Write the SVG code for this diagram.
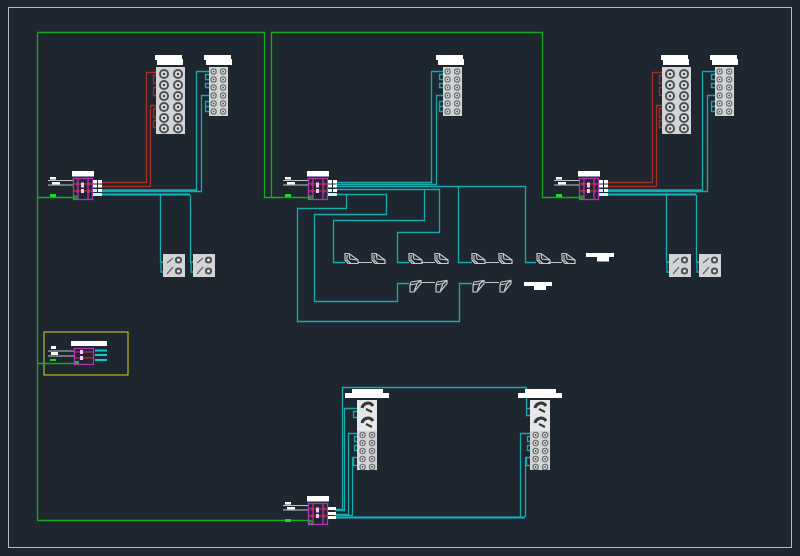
<svg xmlns="http://www.w3.org/2000/svg" xmlns:xlink="http://www.w3.org/1999/xlink" width="800" height="556" viewBox="0 0 800 556">
<style>
.t{fill:none;stroke:#14abaf;stroke-width:1.3}
.tb{fill:none;stroke:#14b8bc;stroke-width:2}
.r{fill:none;stroke:#a82e26;stroke-width:1.3}
.g{fill:none;stroke:#17aa20;stroke-width:1.300}
.w{fill:#fff;stroke:none}
.s{fill:none;stroke:#c6c9cc;stroke-width:1.200}
.m{fill:none;stroke:#b234be;stroke-width:1.300}
.h{fill:none;stroke:#e02c50;stroke-width:1.100}
.bg{fill:#d2d4d6}
</style>
<defs>
<g id="ctl">
<rect class="w" x="-1" y="-7" width="22" height="5.500"/>
<path d="M-25 2.500H0M-25 7H0" fill="none" stroke="#c0c3c6" stroke-width="1.200"/>
<rect class="w" x="-23" y="-1" width="6" height="2.600"/>
<rect class="w" x="-21" y="4" width="8" height="2.600"/>
<rect x="-23" y="16" width="6" height="3" fill="#16e01c"/>
<rect class="m" x="0.500" y="0.500" width="19" height="21"/>
<path class="m" d="M5 0.500V21.500M15 .5V21.500"/>
<path class="h" d="M1 6H19M1 13H19M4 4V8M16 4V8M4 11V15M16 11V15"/>
<path d="M8 4.500h3v5h-3zM8 11h3v4h-3z" fill="#f3c8f5"/>
<rect x="1" y="18" width="3" height="3" fill="none" stroke="#16c01c"/>
</g>
<g id="term4">
<rect class="w" x="20" y="2" width="4" height="3.500"/><rect class="w" x="25" y="2" width="4" height="3.500"/>
<rect class="w" x="20" y="6.500" width="4" height="3"/><rect class="w" x="25" y="6.500" width="4" height="3"/>
<rect x="20" y="11" width="4" height="3" fill="#b8fbfb"/><rect class="w" x="25" y="11" width="4" height="3"/>
<rect x="20" y="15" width="9" height="3" fill="#b8fbfb"/>
</g>
<g id="cellB"><circle cx="7" cy="5.500" r="5" fill="#4c5054"/><circle cx="7" cy="5.500" r="3" fill="#dfe0e2"/><circle cx="7" cy="5.500" r="1.300" fill="#3f4246"/></g>
<g id="cellS"><circle cx="4.600" cy="4" r="3.200" fill="#6f7276"/><circle cx="4.600" cy="4" r="1.900" fill="#eceded"/><circle cx="4.600" cy="4" r=".9" fill="#44474b"/></g>
<g id="rowB"><use href="#cellB" x="1"/><use href="#cellB" x="15"/></g>
<g id="rowS"><use href="#cellS"/><use href="#cellS" x="9.500"/></g>
<g id="big">
<rect class="bg" x="0" y="0" width="29" height="67"/>
<use href="#rowB" y="1.500"/><use href="#rowB" y="12.500"/><use href="#rowB" y="23.500"/><use href="#rowB" y="34.500"/><use href="#rowB" y="45.500"/><use href="#rowB" y="56"/>
</g>
<g id="small">
<rect class="bg" x="0" y="0" width="19" height="49"/>
<use href="#rowS" y="0.500"/><use href="#rowS" y="8.500"/><use href="#rowS" y="16.500"/><use href="#rowS" y="24.500"/><use href="#rowS" y="32.500"/><use href="#rowS" y="40.500"/>
</g>
<g id="relay">
<rect class="bg" width="22" height="23"/>
<circle cx="15.500" cy="6" r="3.600" fill="#4f5256"/><circle cx="15.500" cy="6" r="1.500" fill="#eee"/>
<circle cx="15.500" cy="17" r="3.600" fill="#4f5256"/><circle cx="15.500" cy="17" r="1.500" fill="#eee"/>
<path d="M4 9L10 4M4 20L10 13" fill="none" stroke="#666" stroke-width="1.200"/>
</g>
<g id="large">
<rect x="0" y="0" width="20" height="31" fill="#e6e7e8"/>
<path d="M5 8a6 6 0 0 1 11 -2M5 23a6 6 0 0 1 11 -2" fill="none" stroke="#33373b" stroke-width="3"/>
<path d="M9 9l6 3M9 24l6 3" fill="none" stroke="#33373b" stroke-width="2"/>
</g>
<g id="sensU"><path class="s" d="M1 0.500H5L14 7V10.500H4L1 7ZM3 2V7L7 10.500M5 .5L6 6L14 7"/></g>
<g id="sensD"><path class="s" d="M3 2L13 0.500V3.500L6 12H2V5ZM2 5L9 3.500L6 12M13 .5L9 3.500"/></g>
<g id="lab"><rect class="w" width="27" height="5"/><rect class="w" x="2" y="4" width="26" height="6"/></g>
</defs>

<rect width="800" height="556" fill="#1e2630"/>
<rect x="8.500" y="7.500" width="783" height="540" fill="none" stroke="#b5b9bd" stroke-width="1"/>

<g id="connectors">
<path class="g" d="M76 197.500H37.500V520.500H311M37.500 32.500H264.500V197.500H311M271.500 197.500V32.500H542.500V197.500H582M37.500 32.500V197.500"/>
<path class="r" d="M101 182.500H146.500V72.500H156M101 186.500H150.500V105.500H156M156 75.500H153.500V83.500H156M156 87.500H153.500V95.500H156M156 108.500H153.500V117.500H156M156 120.500H153.500V127.500H156"/>
<path class="r" d="M607 182.500H652.500V72.500H662M607 186.500H656.500V105.500H662M662 75.500H659.500V83.500H662M662 87.500H659.500V95.500H662M662 108.500H659.500V117.500H662M662 120.500H659.500V127.500H662"/>
<path class="t" d="M101 190H196.500V71.500H209M101 191.500H201.500V95.500H209M209 74.500H205.500V79.500H209M209 83.500H205.500V87.500H209M209 101.500H205.500V106.500H209M209 106.500H205.500V111.500H209"/>
<path class="t" d="M160.500 195V262H164V272H161V262M190.500 195V262H194V272H191V262"/>
<path class="tb" d="M101 194.500H190"/>
<path class="t" d="M607 190H702.500V71.500H715M607 191.500H707.500V95.500H715M715 74.500H711.500V79.500H715M715 83.500H711.500V87.500H715M715 101.500H711.500V106.500H715M715 106.500H711.500V111.500H715"/>
<path class="t" d="M666.500 195V262H670V272H667V262M696.500 195V262H700V272H697V262"/>
<path class="tb" d="M607 194.500H696"/>
<path class="t" d="M335 182.500H431.500V71.500H443M335 184.500H436.500V95.500H443M443 74.500H439.500V79.500H443M443 83.500H439.500V87.500H443M443 101.500H439.500V106.500H443M443 106.500H439.500V111.500H443"/>
<path class="t" d="M335 186.500H525.500V262.500H536M458.500 186.500V262.500H472M335 189.500H439.500V232.500H397.500V262.500H409M424.500 190V220.500H333.500V262.500H345"/>
<path class="t" d="M335 194.500H386.500V214.500H314.500V301.500H397.500V283.500H409M346.500 195V208.500H297.500V321.500H459.500V283.500H472"/>
<path class="t" d="M335 509.500H342.500V387.500H526.500V408.500H530M530 415.500H526.500V408.500M335 510.500H344.500V408.500H357M357 411.500H353.500V417.500H357M335 514.500H348.500V433.500H357M357 436.500H354.500V441.500H357M357 445.500H354.500V450.500H357M335 515.500H352.500V457.500H357M357 457.500H353.500V465.500H357"/>
<path class="tb" d="M335 517.500H525"/>
<path class="t" d="M520.500 517V433.500H530M525.500 517V457.500H530M530 436.500H527.500V441.500H530M530 445.500H527.500V450.500H530M530 457.500H526.500V465.500H530"/>
<path class="s" d="M358 262.500H372M421 262.500H435M485 262.500H499M548 262.500H562M421 282.500H435M485 282.500H499"/>
<path d="M95 350.500H107M95 355H107M95 360H107" fill="none" stroke="#17c9cc" stroke-width="2"/>
</g>

<g id="ctl-left"><use href="#ctl" x="73" y="178"/><use href="#term4" x="73" y="178"/></g>
<g id="ctl-mid"><use href="#ctl" x="308" y="178"/><use href="#term4" x="308" y="178"/></g>
<g id="ctl-right"><use href="#ctl" x="579" y="178"/><use href="#term4" x="579" y="178"/></g>
<g id="ctl-bottom"><use href="#ctl" x="308" y="503"/><rect class="w" x="328" y="507" width="8" height="3"/><rect class="w" x="328" y="512" width="8" height="3"/><rect class="w" x="328" y="516" width="8" height="3"/></g>

<g id="legend">
<rect x="44" y="332" width="84" height="43" fill="none" stroke="#d6d62a" stroke-width="1"/>
<path class="g" d="M37.500 363.500H75"/>
<rect class="w" x="71" y="341" width="36" height="5"/>
<path d="M48 351H74M48 356H74" fill="none" stroke="#c0c3c6"/>
<rect class="w" x="51" y="346" width="5" height="3"/><rect class="w" x="51" y="352" width="7" height="3"/>
<rect x="50" y="359" width="6" height="2" fill="#16e01c"/>
<rect class="m" x="74.500" y="348.500" width="19" height="16"/>
<path class="h" d="M75 352H93M75 358H93"/>
<path d="M80 350h3v4h-3zM80 356h3v4h-3z" fill="#f3c8f5"/>
<rect x="75" y="361" width="4" height="3" fill="#16c01c"/>
</g>

<g id="block-tl"><use href="#lab" x="155" y="55"/><use href="#big" x="156" y="67"/></g>
<g id="block-tl2"><use href="#lab" x="204" y="55"/><use href="#small" x="209" y="67"/></g>
<g id="block-tr"><use href="#lab" x="661" y="55"/><use href="#big" x="662" y="67"/></g>
<g id="block-tr2"><use href="#lab" x="710" y="55"/><use href="#small" x="715" y="67"/></g>
<g id="block-tm"><use href="#lab" x="436" y="55"/><use href="#small" x="443" y="67"/></g>
<g id="relay-l1"><use href="#relay" x="163" y="254"/></g>
<g id="relay-l2"><use href="#relay" x="193" y="254"/></g>
<g id="relay-r1"><use href="#relay" x="669" y="254"/></g>
<g id="relay-r2"><use href="#relay" x="699" y="254"/></g>

<g id="sensors-top">
<use href="#sensU" x="344" y="253"/><use href="#sensU" x="371" y="253"/>
<use href="#sensU" x="408" y="253"/><use href="#sensU" x="434" y="253"/>
<use href="#sensU" x="471" y="253"/><use href="#sensU" x="498" y="253"/>
<use href="#sensU" x="536" y="253"/><use href="#sensU" x="561" y="253"/>
</g>
<g id="sensors-bottom">
<use href="#sensD" x="408" y="280"/><use href="#sensD" x="434" y="280"/>
<use href="#sensD" x="471" y="280"/><use href="#sensD" x="498" y="280"/>
</g>
<g id="label-top"><rect class="w" x="586" y="253" width="28" height="4"/><rect class="w" x="597" y="257" width="12" height="4.500"/></g>
<g id="label-bot"><rect class="w" x="524" y="282" width="28" height="4"/><rect class="w" x="534" y="286" width="12" height="4"/></g>

<g id="block-bl">
<rect class="w" x="352" y="389" width="31" height="5"/><rect class="w" x="345" y="393" width="44" height="5"/>
<use href="#large" x="357" y="400"/>
<rect class="bg" x="357" y="431" width="20" height="39"/>
<use href="#rowS" x="358" y="431"/><use href="#rowS" x="358" y="439"/><use href="#rowS" x="358" y="447"/><use href="#rowS" x="358" y="455"/><use href="#rowS" x="358" y="463"/>
</g>
<g id="block-br">
<rect class="w" x="525" y="389" width="31" height="5"/><rect class="w" x="518" y="393" width="44" height="5"/>
<use href="#large" x="530" y="400"/>
<rect class="bg" x="530" y="431" width="20" height="39"/>
<use href="#rowS" x="531" y="431"/><use href="#rowS" x="531" y="439"/><use href="#rowS" x="531" y="447"/><use href="#rowS" x="531" y="455"/><use href="#rowS" x="531" y="463"/>
</g>
</svg>
